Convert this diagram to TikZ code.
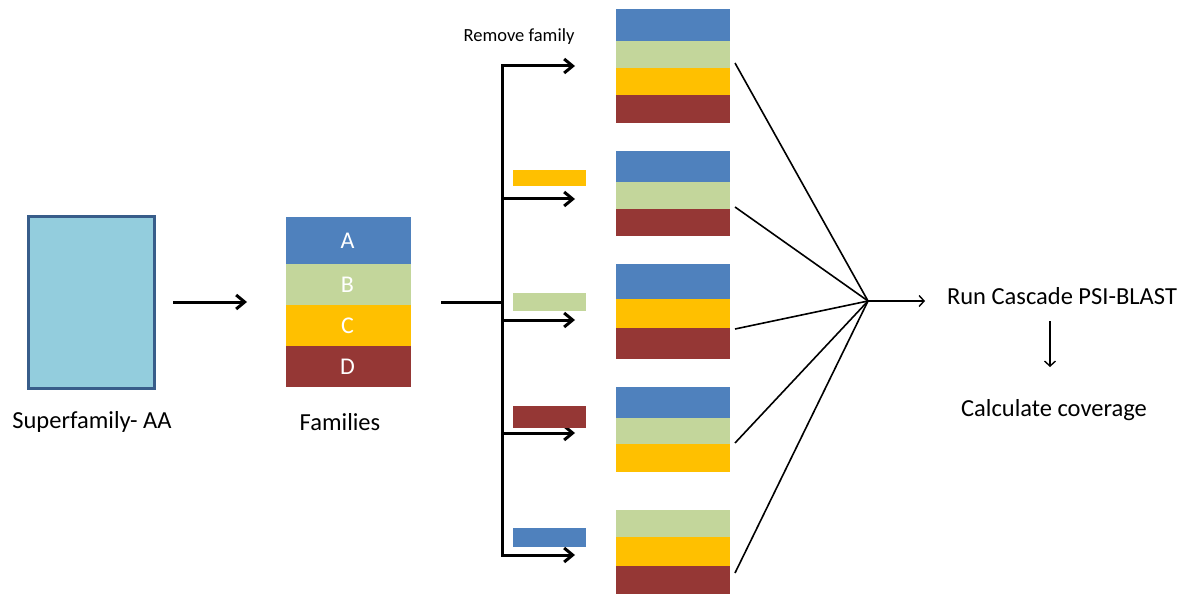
\documentclass[tikz,border=0pt]{standalone}
\usepackage{fontspec}
\setmainfont{Carlito}
\usetikzlibrary{arrows.meta,fit}
\definecolor{cblue}{HTML}{4F81BD}
\definecolor{cgreen}{HTML}{C3D69B}
\definecolor{cyellow}{HTML}{FFC000}
\definecolor{cred}{HTML}{953735}
\definecolor{clight}{HTML}{93CDDD}
\definecolor{cborder}{HTML}{385D8A}
\tikzset{
  band/.style={inner sep=0pt, outer sep=0pt, fill=#1, draw=none},
  lbl/.style={font=\fontsize{24.5}{28}\selectfont, text=black, inner sep=0pt},
  bandtxt/.style={text=white, font=\fontsize{24}{28}\selectfont, inner sep=0pt},
  thickarrow/.style={line width=3pt, -{Straight Barb[length=8.5pt,width=14pt,line width=3pt]}},
  thickline/.style={line width=3pt},
  thinline/.style={line width=1.6pt},
}
\begin{document}
\begin{tikzpicture}[x=1pt,y=-1pt]
\useasboundingbox (0,0) rectangle (1188,596);
% superfamily
\node[fit={(28,216) (154,388)}, inner sep=0pt, fill=clight, draw=cborder, line width=3pt] (sf) {};
\node[lbl] (sflbl) at (92,422) {Superfamily- AA};
% families
\node[band=cblue, fit={(286,217) (411,264)}] (fa) {};
\node[band=cgreen, fit={(286,264) (411,305)}] (fb) {};
\node[band=cyellow, fit={(286,305) (411,346)}] (fc) {};
\node[band=cred, fit={(286,346) (411,387)}] (fd) {};
\node[bandtxt] (ta) at ([xshift=-1pt]fa.center) {A};
\node[bandtxt] (tb) at ([xshift=-1pt]fb.center) {B};
\node[bandtxt] (tc) at ([xshift=-1pt]fc.center) {C};
\node[bandtxt] (td) at ([xshift=-1pt]fd.center) {D};
\node[lbl] (famlbl) at (340,422) {Families};
% arrow sf -> families
\coordinate (a1s) at (173,302);
\coordinate (a1e) at (247,302);
\draw[thickarrow] (a1s) -- (a1e);
% fork
\coordinate (fs) at (441,302);
\coordinate (j) at (502,302);
\coordinate (vt) at (502,65);
\coordinate (vb) at (502,555);
\draw[thickline] (fs) -- (j);
\draw[thickline] (vt) -- (vb);
\foreach \yy/\nm in {66/1,199/2,320/3,433/4,555/5}{
  \coordinate (bs\nm) at (501,\yy);
  \coordinate (be\nm) at (575,\yy);
  \draw[thickarrow] (bs\nm) -- (be\nm);
}
\node[font=\fontsize{18.5}{22}\selectfont, inner sep=0pt] (rm) at (519,37) {Remove family};
% removed family bars
\node[band=cyellow, fit={(513,170) (586,186)}] (r1) {};
\node[band=cgreen, fit={(513,293) (586,311)}] (r2) {};
\node[band=cred, fit={(513,406) (586,428)}] (r3) {};
\node[band=cblue, fit={(513,528) (586,547)}] (r4) {};
% stacks
\node[band=cblue, fit={(616,9) (730,41)}] (s1a) {};
\node[band=cgreen, fit={(616,41) (730,68)}] (s1b) {};
\node[band=cyellow, fit={(616,68) (730,95)}] (s1c) {};
\node[band=cred, fit={(616,95) (730,123)}] (s1d) {};
\node[band=cblue, fit={(616,151) (730,182)}] (s2a) {};
\node[band=cgreen, fit={(616,182) (730,209)}] (s2b) {};
\node[band=cred, fit={(616,209) (730,236)}] (s2c) {};
\node[band=cblue, fit={(616,264) (730,299)}] (s3a) {};
\node[band=cyellow, fit={(616,299) (730,328)}] (s3b) {};
\node[band=cred, fit={(616,328) (730,359)}] (s3c) {};
\node[band=cblue, fit={(616,387) (730,418)}] (s4a) {};
\node[band=cgreen, fit={(616,418) (730,444)}] (s4b) {};
\node[band=cyellow, fit={(616,444) (730,472)}] (s4c) {};
\node[band=cgreen, fit={(616,510) (730,537)}] (s5a) {};
\node[band=cyellow, fit={(616,537) (730,566)}] (s5b) {};
\node[band=cred, fit={(616,566) (730,594)}] (s5c) {};
% converging lines
\coordinate (cv) at (868,301);
\foreach \yy/\nm in {63/1,207/2,329/3,443/4,573/5}{
  \coordinate (ls\nm) at (735,\yy);
  \draw[thinline] (ls\nm) -- (cv);
}
\coordinate (ce) at (925,301);
\draw[line width=1.4pt, -{Straight Barb[length=5pt,width=11pt,line width=1.4pt]}] (cv) -- (ce);
\node[lbl] (run) at (1062,296) {Run Cascade PSI-BLAST};
\node[lbl] (calc) at (1054,410) {Calculate coverage};
\coordinate (ds) at (1050,321);
\coordinate (de) at (1050,367);
\draw[line width=1.4pt, -{Straight Barb[length=5pt,width=11pt,line width=1.4pt]}] (ds) -- (de);
\end{tikzpicture}
\end{document}
